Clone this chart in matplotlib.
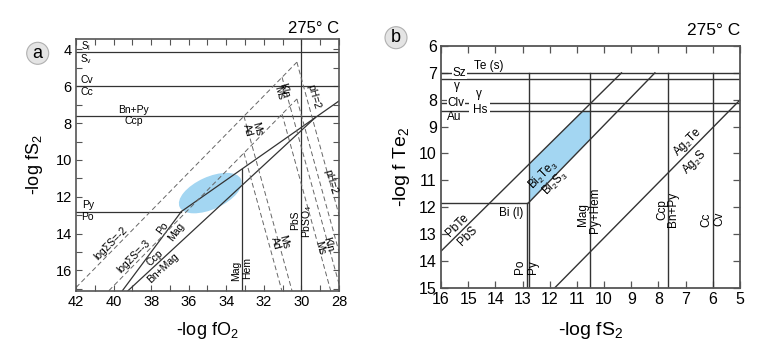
import matplotlib.pyplot as plt
from matplotlib.patches import Ellipse, Polygon, Circle

plt.rcParams['font.family'] = ['Liberation Sans', 'DejaVu Sans']
plt.rcParams['mathtext.fontset'] = 'custom'
plt.rcParams['mathtext.rm'] = 'Liberation Sans'
plt.rcParams['mathtext.it'] = 'Liberation Sans:italic'
plt.rcParams['mathtext.default'] = 'regular'

LC = '#333333'   # boundary lines
DC = '#666666'   # dashed isopleths
BLUE = '#a3d6f2'

# ---------------- panel a data: x = -log fO2, y = -log fS2 ----------------
a_hlines_y = [4.12, 6.0, 7.6]          # S(l)/S(v), Cv/Cc, Bn+Py/Ccp
py_po_y = 12.8
triple_x = 36.39
pbs_x = 30.0
mag_hem_x = 33.15
mag_hem_top = 10.5
po_mag_x = [39.53, triple_x]
po_mag_y = [17.1, py_po_y]
py_mag_x = [triple_x, 28.0]
py_mag_y = [py_po_y, 6.8]
ccp_bn_x = [39.23, 29.26]
ccp_bn_y = [17.1, 7.70]

# sulfur isopleths (logΣS = -2, -3) and their pH branches
s2_x = [42.0, 30.24]
s2_y = [16.93, 4.69]
s3_x = [40.25, 30.24]
s3_y = [17.1, 6.69]
branch_x = [33.06, 31.03, 30.24]          # Ms/Ad, Kln/Ms, pH=2
branch_s2_y = [7.62, 5.51, 4.69]
branch_s3_y = [9.62, 7.51, 6.69]
branch_s2_end = [(30.50, 17.1), (28.0, 16.72), (28.0, 12.98)]
branch_s3_end = [(31.04, 17.1), (28.44, 17.1), (28.0, 14.98)]

# fluid inclusion field
ell_center = (34.85, 11.8)
ell_w, ell_h, ell_ang = 3.6, 1.75, 25

# ---------------- panel b data: x = -log fS2, y = -log fTe2 ----------------
b_hlines_y = [7.0, 7.24, 8.11, 8.41]
b_vlines_x = [12.75, 10.5, 7.64, 6.0]
b_vtop = 7.0
bi_l_y = 11.86
bi_l_x = 12.85
pbte_x = [16.0, 9.36]
pbte_y = [13.64, 7.0]
bi2s3_x = [12.8, 8.13]
bi2s3_y = [11.86, 7.0]
ag2te_x = [11.81, 5.0]
ag2te_y = [15.0, 8.01]
bi2te3_x = [12.75, 10.78, 10.5, 10.5, 12.75]
bi2te3_y = [10.41, 8.41, 8.41, 9.47, 11.81]

fig = plt.figure(figsize=(7.66, 3.51), dpi=100)

# ======================= panel a =======================
ax = fig.add_axes([0.0992, 0.1718, 0.3433, 0.7162])
ax.set_xlim(42, 28)
ax.set_ylim(17.1, 3.45)

ax.add_patch(Ellipse(ell_center, ell_w, ell_h, angle=ell_ang, color=BLUE, lw=0, zorder=1))

for y in a_hlines_y:
    ax.axhline(y, color=LC, lw=0.9)
ax.plot([42, triple_x], [py_po_y, py_po_y], color=LC, lw=0.9)
ax.axvline(pbs_x, color=LC, lw=0.9)
ax.plot([mag_hem_x, mag_hem_x], [17.1, mag_hem_top], color=LC, lw=0.9)
ax.plot(po_mag_x, po_mag_y, color=LC, lw=0.9)
ax.plot(py_mag_x, py_mag_y, color=LC, lw=0.9)
ax.plot(ccp_bn_x, ccp_bn_y, color=LC, lw=0.9)

dash = dict(color=DC, lw=0.7, dashes=(5, 3))
ax.plot(s2_x, s2_y, **dash)
ax.plot(s3_x, s3_y, **dash)
for bx_, by2, by3, e2, e3 in zip(branch_x, branch_s2_y, branch_s3_y, branch_s2_end, branch_s3_end):
    ax.plot([bx_, e2[0]], [by2, e2[1]], **dash)
    ax.plot([bx_, e3[0]], [by3, e3[1]], **dash)

fs = 7.5
ax.text(41.45, 3.8, 'S$_l$', fontsize=7, ha='center', va='center')
ax.text(41.45, 4.52, 'S$_v$', fontsize=7, ha='center', va='center')
ax.text(41.42, 5.68, 'Cv', fontsize=fs, ha='center', va='center')
ax.text(41.42, 6.3, 'Cc', fontsize=fs, ha='center', va='center')
ax.text(38.93, 7.3, 'Bn+Py', fontsize=fs, ha='center', va='center')
ax.text(38.93, 7.9, 'Ccp', fontsize=fs, ha='center', va='center')
ax.text(41.37, 12.44, 'Py', fontsize=fs, ha='center', va='center')
ax.text(41.37, 13.09, 'Po', fontsize=fs, ha='center', va='center')
ax.text(40.17, 14.52, 'logΣS=-2', fontsize=fs, ha='center', va='center', rotation=45)
ax.text(38.93, 15.27, 'logΣS=-3', fontsize=fs, ha='center', va='center', rotation=45)
ax.text(37.38, 13.71, 'Po', fontsize=fs, ha='center', va='center', rotation=53)
ax.text(36.67, 13.89, 'Mag', fontsize=fs, ha='center', va='center', rotation=53)
ax.text(37.82, 15.33, 'Ccp', fontsize=fs, ha='center', va='center', rotation=43)
ax.text(37.38, 15.87, 'Bn+Mag', fontsize=fs, ha='center', va='center', rotation=43)
ax.text(33.47, 16.05, 'Mag', fontsize=fs, ha='center', va='center', rotation=90)
ax.text(32.88, 15.85, 'Hem', fontsize=fs, ha='center', va='center', rotation=90)
ax.text(30.32, 13.26, 'PbS', fontsize=fs, ha='center', va='center', rotation=90)
ax.text(29.71, 13.35, 'PbSO$_4$', fontsize=fs, ha='center', va='center', rotation=90)
ax.text(30.94, 14.43, 'Ms', fontsize=fs, ha='center', va='center', rotation=-74)
ax.text(31.38, 14.52, 'Ad', fontsize=fs, ha='center', va='center', rotation=-74)
ax.text(28.56, 14.61, 'Kln', fontsize=fs, ha='center', va='center', rotation=-74)
ax.text(29.0, 14.79, 'Ms', fontsize=fs, ha='center', va='center', rotation=-74)
ax.text(28.47, 11.18, 'pH=2', fontsize=fs, ha='center', va='center', rotation=-74)
ax.text(30.94, 6.22, 'Kln', fontsize=fs, ha='center', va='center', rotation=-74)
ax.text(31.2, 6.38, 'Ms', fontsize=fs, ha='center', va='center', rotation=-74)
ax.text(29.35, 6.58, 'pH=2', fontsize=fs, ha='center', va='center', rotation=-74)
ax.text(32.35, 8.29, 'Ms', fontsize=fs, ha='center', va='center', rotation=-74)
ax.text(32.88, 8.38, 'Ad', fontsize=fs, ha='center', va='center', rotation=-74)

ax.set_xticks(range(28, 43, 2))
ax.set_xticks(range(28, 43), minor=True)
ax.set_yticks(range(4, 17, 2))
ax.set_yticks(range(4, 18), minor=True)
ax.tick_params(which='both', direction='in', top=True, right=True, length=4,
               width=0.8, color='#555555', labelsize=10.5, pad=3)
ax.set_xlabel('-log fO$_2$', fontsize=13)
ax.set_ylabel('-log fS$_2$', fontsize=13)
ax.xaxis.set_label_coords(0.5, -0.115)
ax.yaxis.set_label_coords(-0.118, 0.5)
for sp in ax.spines.values():
    sp.set_color('#555555')
    sp.set_linewidth(1.2)
ax.text(1.0, 1.015, '275° C', transform=ax.transAxes, fontsize=12, ha='right', va='bottom')

# ======================= panel b =======================
bx = fig.add_axes([0.5757, 0.1803, 0.3903, 0.6886])
bx.set_xlim(16, 5)
bx.set_ylim(15, 6)

bx.add_patch(Polygon(list(zip(bi2te3_x, bi2te3_y)), closed=True, color=BLUE, lw=0, zorder=1))

for y in b_hlines_y:
    bx.axhline(y, color=LC, lw=1.0)
for x in b_vlines_x:
    bx.plot([x, x], [15, b_vtop], color=LC, lw=1.0)
bx.plot([16, bi_l_x], [bi_l_y, bi_l_y], color=LC, lw=1.0)
bx.plot([bi_l_x, bi_l_x], [bi_l_y, 15], color=LC, lw=1.0)
bx.plot(pbte_x, pbte_y, color=LC, lw=1.0)
bx.plot(bi2s3_x, bi2s3_y, color=LC, lw=1.0)
bx.plot(ag2te_x, ag2te_y, color=LC, lw=1.0)

fb = 8.5
wb = dict(facecolor='white', edgecolor='none', pad=0.6)
bx.text(15.33, 6.99, 'Sz', fontsize=fb, ha='center', va='center', bbox=wb)
bx.text(14.26, 6.74, 'Te (s)', fontsize=fb, ha='center', va='center')
bx.text(15.4, 7.49, 'γ', fontsize=fb, ha='center', va='center')
bx.text(14.6, 7.8, 'γ', fontsize=fb, ha='center', va='center')
bx.text(15.45, 8.12, 'Clv', fontsize=fb, ha='center', va='center', bbox=wb)
bx.text(14.57, 8.4, 'Hs', fontsize=fb, ha='center', va='center',
        bbox=dict(facecolor='white', edgecolor='none', pad=2.5))
bx.text(15.52, 8.66, 'Au', fontsize=fb, ha='center', va='center')
bx.text(12.24, 10.8, 'Bi$_2$Te$_3$', fontsize=fb, ha='center', va='center', rotation=45)
bx.text(11.81, 11.1, 'Bi$_2$S$_3$', fontsize=fb, ha='center', va='center', rotation=45)
bx.text(15.39, 12.67, 'PbTe', fontsize=fb, ha='center', va='center', rotation=45)
bx.text(15.0, 13.08, 'PbS', fontsize=fb, ha='center', va='center', rotation=45)
bx.text(13.43, 12.21, 'Bi (l)', fontsize=fb, ha='center', va='center')
bx.text(13.1, 14.22, 'Po', fontsize=fb, ha='center', va='center', rotation=90)
bx.text(12.6, 14.22, 'Py', fontsize=fb, ha='center', va='center', rotation=90)
bx.text(10.77, 12.29, 'Mag', fontsize=fb, ha='center', va='center', rotation=90)
bx.text(10.34, 12.11, 'Py+Hem', fontsize=fb, ha='center', va='center', rotation=90)
bx.text(7.86, 12.1, 'Ccp', fontsize=fb, ha='center', va='center', rotation=90)
bx.text(7.46, 12.1, 'Bn+Py', fontsize=fb, ha='center', va='center', rotation=90)
bx.text(6.23, 12.48, 'Cc', fontsize=fb, ha='center', va='center', rotation=90)
bx.text(5.77, 12.42, 'Cv', fontsize=fb, ha='center', va='center', rotation=90)
bx.text(6.91, 9.56, 'Ag$_2$Te', fontsize=fb, ha='center', va='center', rotation=45)
bx.text(6.66, 10.31, 'Ag$_2$S', fontsize=fb, ha='center', va='center', rotation=45)

bx.set_xticks(range(5, 17))
bx.set_yticks(range(6, 16))
bx.tick_params(which='both', direction='in', top=True, right=True, length=5,
               width=0.9, color='#555555', labelsize=11.5, pad=3)
bx.set_xlabel('-log fS$_2$', fontsize=14)
bx.set_ylabel('-log f Te$_2$', fontsize=14)
bx.xaxis.set_label_coords(0.5, -0.135)
bx.yaxis.set_label_coords(-0.097, 0.5)
for sp in bx.spines.values():
    sp.set_color('#555555')
    sp.set_linewidth(1.3)
bx.text(1.0, 1.035, '275° C', transform=bx.transAxes, fontsize=12.5, ha='right', va='bottom')

# panel letters
for cx, cy, letter in [(37.7, 53.3, 'a'), (396, 37.7, 'b')]:
    fx, fy = cx / 766, 1 - cy / 351
    fig.patches.append(Circle((cx, 351 - cy), 11, transform=None, facecolor='#e4e4e4',
                              edgecolor='#b0b0b0', lw=0.8))
    fig.text(fx, fy, letter, fontsize=13, ha='center', va='center')

fig.savefig('out.png', dpi=100)
